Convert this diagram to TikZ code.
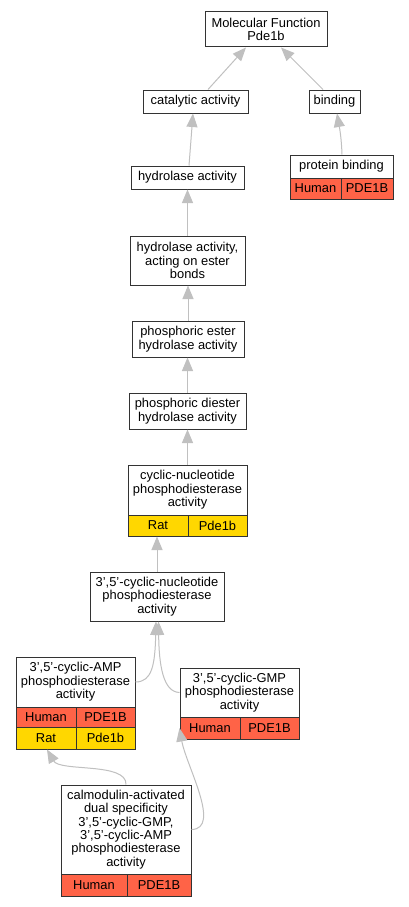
\documentclass[tikz,border=0pt]{standalone}
\usepackage{fontspec}
\setmainfont{Liberation Sans}
\usetikzlibrary{arrows.meta}
\definecolor{hum}{HTML}{FF6347}
\definecolor{rat}{HTML}{FFD700}
\definecolor{edgegray}{HTML}{C0C0C0}
\tikzset{
  gobox/.style={draw=black!80, line width=1pt, fill=white, inner sep=0pt, align=center,
    font=\fontsize{12.9}{13.4}\selectfont},
  hcell/.style={gobox, fill=hum},
  rcell/.style={gobox, fill=rat},
  isa/.style={draw=edgegray, line width=1pt, -{Triangle[length=13.5pt,width=11pt]}}
}
\begin{document}
\begin{tikzpicture}[x=1pt,y=-1pt]
\useasboundingbox[fill=white] (0,0) rectangle (408,907);
% nodes
\node[gobox, minimum width=122pt, minimum height=35pt] (mf) at (266,29.5) {Molecular Function\\Pde1b};
\node[gobox, minimum width=105pt, minimum height=23pt] (cat) at (195.5,101.5) {catalytic activity};
\node[gobox, minimum width=51pt, minimum height=23pt] (bind) at (334.5,101.5) {binding};
\node[gobox, minimum width=113pt, minimum height=23pt] (hyd) at (187.5,177.5) {hydrolase activity};
\node[gobox, minimum width=103pt, minimum height=23pt] (pb) at (341.5,166.5) {protein binding};
\node[hcell, minimum width=51pt, minimum height=21pt] (pbH) at (315.5,188.5) {Human};
\node[hcell, minimum width=52pt, minimum height=21pt] (pbG) at (367,188.5) {PDE1B};
\node[gobox, minimum width=115pt, minimum height=49pt] (haoeb) at (187.5,260.5) {hydrolase activity,\\acting on ester\\bonds};
\node[gobox, minimum width=112pt, minimum height=36pt] (pe) at (188,339) {phosphoric ester\\hydrolase activity};
\node[gobox, minimum width=117pt, minimum height=36pt] (pde) at (187.5,411) {phosphoric diester\\hydrolase activity};
\node[gobox, minimum width=119pt, minimum height=50pt] (cn) at (187.5,490) {cyclic-nucleotide\\phosphodiesterase\\activity};
\node[rcell, minimum width=60pt, minimum height=21pt] (cnR) at (158,525.5) {Rat};
\node[rcell, minimum width=59pt, minimum height=21pt] (cnG) at (217.5,525.5) {Pde1b};
\node[gobox, minimum width=134pt, minimum height=49pt] (ccn) at (157,596.5) {3',5'-cyclic-nucleotide\\phosphodiesterase\\activity};
\node[gobox, minimum width=119pt, minimum height=50pt] (camp) at (75.5,682) {3',5'-cyclic-AMP\\phosphodiesterase\\activity};
\node[hcell, minimum width=60pt, minimum height=20pt] (campH) at (46,717) {Human};
\node[hcell, minimum width=59pt, minimum height=20pt] (campHG) at (105.5,717) {PDE1B};
\node[rcell, minimum width=60pt, minimum height=22pt] (campR) at (46,738) {Rat};
\node[rcell, minimum width=59pt, minimum height=22pt] (campRG) at (105.5,738) {Pde1b};
\node[gobox, minimum width=119pt, minimum height=49pt] (cgmp) at (239.5,692.5) {3',5'-cyclic-GMP\\phosphodiesterase\\activity};
\node[hcell, minimum width=60pt, minimum height=22pt] (cgmpH) at (210,728) {Human};
\node[hcell, minimum width=59pt, minimum height=22pt] (cgmpG) at (269.5,728) {PDE1B};
\node[gobox, minimum width=130pt, minimum height=89pt] (cal) at (126,829.5) {calmodulin-activated\\dual specificity\\3',5'-cyclic-GMP,\\3',5'-cyclic-AMP\\phosphodiesterase\\activity};
\node[hcell, minimum width=66pt, minimum height=22pt] (calH) at (94,885) {Human};
\node[hcell, minimum width=64pt, minimum height=22pt] (calG) at (159,885) {PDE1B};
% edges
\draw[isa] ([xshift=12.5pt]cat.north) -- ([xshift=-20pt]mf.south);
\draw[isa] ([xshift=-11.5pt]bind.north) -- ([xshift=15pt]mf.south);
\draw[isa] ([xshift=1.5pt]hyd.north) -- ([xshift=-2.5pt]cat.south);
\draw[isa] ([xshift=0.5pt]pb.north) to[out=92,in=-80] ([xshift=2.5pt]bind.south);
\draw[isa] (haoeb.north) -- (hyd.south);
\draw[isa] (pe.north) -- (pe.north |- haoeb.south);
\draw[isa] (pde.north) -- (pde.north |- pe.south);
\draw[isa] (cn.north) -- (cn.north |- pde.south);
\draw[isa] (ccn.north) -- (ccn.north |- cnR.south);
\draw[isa] (camp.east) .. controls (152,682) and (155,665) .. ([xshift=-1pt]ccn.south);
\draw[isa] (cgmp.west) .. controls (163,692) and (159,665) .. ([xshift=1.5pt]ccn.south);
\draw[isa] (cal.north) .. controls (127,762) and (60,772) .. ([xshift=1pt]campR.south);
\draw[isa] (cal.east) .. controls (222,829) and (186,765) .. (cgmpH.west);
\end{tikzpicture}
\end{document}
